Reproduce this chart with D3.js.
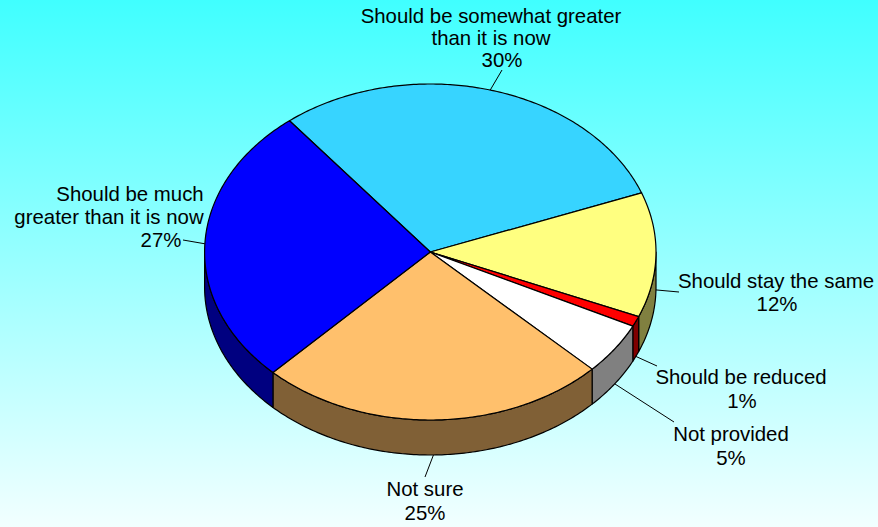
<!DOCTYPE html>
<html>
<head>
<meta charset="utf-8">
<script src="https://cdn.jsdelivr.net/npm/d3@7"></script>
<style>
  html, body { margin: 0; padding: 0; overflow: hidden; }
  svg { display: block; }
</style>
</head>
<body>
<svg id="chart" width="878" height="527"></svg>
<script>
// Survey answers, listed clockwise around the pie
const categories = [
  ["Should be somewhat greater", "than it is now"],
  ["Should stay the same"],
  ["Should be reduced"],
  ["Not provided"],
  ["Not sure"],
  ["Should be much", "greater than it is now"]
];
const values = [30, 12, 1, 5, 25, 27];

// Slice fills (top face) and darker fills for the visible rim
const topColors  = ["#37d4ff", "#ffff80", "#ff0000", "#ffffff", "#ffc06c", "#0000ff"];
const sideColors = ["#1c6a80", "#808040", "#800000", "#808080", "#806036", "#000080"];

// Label placement: line centres/baselines and the outer end of each leader
const labelLayout = [
  { lines: [[491, 23], [491, 45], [502, 67]], leader: [502, 70] },
  { lines: [[776, 288], [777, 311]], leader: [679, 292] },
  { lines: [[741, 384], [742, 408]], leader: [657, 366] },
  { lines: [[731, 441], [731, 465]], leader: [674, 422] },
  { lines: [[425, 496], [425, 520]], leader: [425, 477] },
  { lines: [[130, 201], [109, 224], [161, 247]], leader: [183, 240] }
];

const W = 878, H = 527;
const cx = 430.3, cy = 252, rx = 225.7, ry = 168, depth = 35;
const startDeg = -38.6;

const svg = d3.select("#chart");

// Background: vertical cyan-to-white gradient
const defs = svg.append("defs");
const grad = defs.append("linearGradient").attr("id", "bg")
  .attr("x1", 0).attr("y1", 0).attr("x2", 0).attr("y2", 1);
grad.append("stop").attr("offset", "0%").attr("stop-color", "#40ffff");
grad.append("stop").attr("offset", "100%").attr("stop-color", "#f2ffff");
svg.append("rect").attr("width", W).attr("height", H).attr("fill", "url(#bg)");

const start = startDeg * Math.PI / 180;
const pie = d3.pie().sort(null).value(d => d)
  .startAngle(start).endAngle(start + 2 * Math.PI);
const arcs = pie(values);

// Project an angle (clockwise from 12 o'clock) onto the tilted disc
const proj = (t, dz = 0) => [cx + rx * Math.sin(t), cy - ry * Math.cos(t) + dz];
const sample = (a, b) => {
  const n = Math.max(2, Math.ceil(Math.abs(b - a) * 80));
  return d3.range(n + 1).map(i => a + (b - a) * i / n);
};
const line = d3.line();

// Rim: only the front half of the cylinder is visible
const frontA = Math.PI / 2, frontB = 3 * Math.PI / 2;
const rimLayer = svg.append("g");
arcs.forEach((d, i) => {
  const a = Math.max(d.startAngle, frontA), b = Math.min(d.endAngle, frontB);
  if (b <= a) return;
  const ts = sample(a, b);
  const pts = ts.map(t => proj(t)).concat(ts.slice().reverse().map(t => proj(t, depth)));
  rimLayer.append("path")
    .attr("d", line(pts) + "Z")
    .attr("fill", sideColors[i])
    .attr("stroke", "#000").attr("stroke-width", 1.2).attr("stroke-linejoin", "round");
});

// Top faces
const faceLayer = svg.append("g");
arcs.forEach((d, i) => {
  const pts = [[cx, cy]].concat(sample(d.startAngle, d.endAngle).map(t => proj(t)));
  faceLayer.append("path")
    .attr("d", line(pts) + "Z")
    .attr("fill", topColors[i])
    .attr("stroke", "#000").attr("stroke-width", 1.2).attr("stroke-linejoin", "round");
});

// Leader lines and labels
const labelLayer = svg.append("g")
  .attr("font-family", "Arial, 'Liberation Sans', Helvetica, sans-serif")
  .attr("font-size", 20.4).attr("fill", "#000");
arcs.forEach((d, i) => {
  const mid = (d.startAngle + d.endAngle) / 2;
  const inner = proj(mid, Math.cos(mid) < 0 ? depth : 0);
  const lay = labelLayout[i];
  labelLayer.append("line")
    .attr("x1", inner[0]).attr("y1", inner[1])
    .attr("x2", lay.leader[0]).attr("y2", lay.leader[1])
    .attr("stroke", "#000").attr("stroke-width", 1);
  const texts = categories[i].concat([values[i] + "%"]);
  texts.forEach((s, k) => {
    labelLayer.append("text")
      .attr("x", lay.lines[k][0]).attr("y", lay.lines[k][1])
      .attr("text-anchor", "middle")
      .text(s);
  });
});
</script>
</body>
</html>
